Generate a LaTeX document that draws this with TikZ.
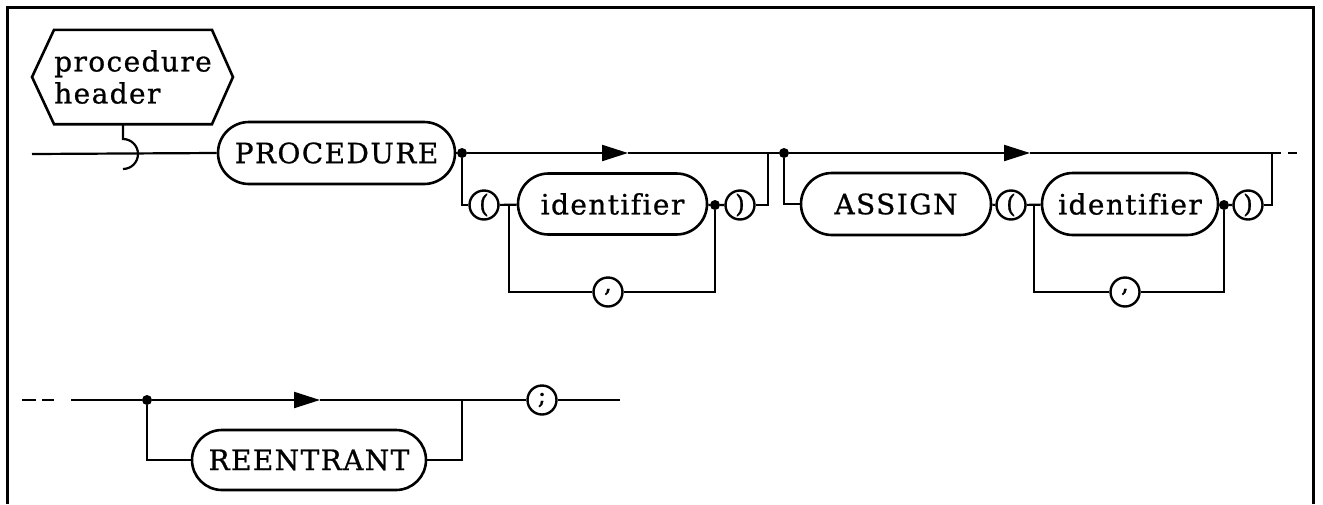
\documentclass[tikz,border=0pt]{standalone}
\usepackage{fontspec}
\setmainfont{DejaVu Serif}[LetterSpace=5,FakeBold=0.8,Ligatures=NoCommon]
\usetikzlibrary{shapes.misc,arrows.meta,calc}
\begin{document}
\begin{tikzpicture}[x=1pt,y=-1pt,
  ln/.style={line width=2.2pt},
  term/.style={draw, rounded rectangle, line width=2.6pt, minimum height=62pt, inner sep=0pt, font=\fontsize{28}{30}\selectfont},
  sym/.style={draw, circle, line width=2.4pt, minimum size=29pt, inner sep=0pt, font=\fontsize{25}{25}\selectfont},
  jdot/.style={circle, fill, inner sep=0pt, minimum size=10pt},
  arr/.style={ln, -{Triangle[length=26pt,width=16pt]}},
  frame/.style={line width=3pt}]
\useasboundingbox (0,0) rectangle (1323,504);
% frame
\coordinate (fbl) at (7,504); \coordinate (ftl) at (7,7);
\coordinate (ftr) at (1313,7); \coordinate (fbr) at (1313,504);
\draw[frame] (fbl) -- (ftl) -- (ftr) -- (fbr);
% hexagon
\node[minimum width=152pt, minimum height=94pt, inner sep=0pt, align=left,
      font=\fontsize{28}{32}\selectfont] (hex) at (133,77) {procedure\\header};
\draw[line width=2.6pt] (hex.north west) -- (hex.north east) -- ($(hex.east)+(21,0)$)
   -- (hex.south east) -- (hex.south west) -- ($(hex.west)+(-22,0)$) -- cycle;
% row 1
\node[term, minimum width=237pt] (proc) at (336.5,153) {PROCEDURE};
\node[jdot] (d1) at (462,153) {};
\node[sym] (o1) at (484,205) {(};
\node[term, minimum width=189pt, minimum height=61pt] (id1) at (612.5,204) {identif{}ier};
\node[jdot] (d2) at (715,205) {};
\node[sym] (c1) at (740,205) {)};
\node[sym] (cm1) at (608,292) {,};
\node[jdot] (d3) at (784,153) {};
\node[term, minimum width=190pt] (asg) at (896,204) {ASSIGN};
\node[sym] (o2) at (1011,205) {(};
\node[term, minimum width=176pt] (id2) at (1130,204) {identif{}ier};
\node[jdot] (d4) at (1224,205) {};
\node[sym] (c2) at (1248,205) {)};
\node[sym] (cm2) at (1125,292) {,};
\coordinate (start) at (32,154);
\coordinate (hk) at (123,139);
\coordinate (a1) at (628,153);
\coordinate (j1) at (768,153);
\coordinate (b1) at (509,205);
\coordinate (a2) at (1030,153);
\coordinate (j2) at (1272,153);
\coordinate (tail) at (1304,153);
\coordinate (b2) at (1034,205);
% hook entry
\draw[ln] ($(hex.south)+(-10,0)$) -- (hk) arc[start angle=90, end angle=-90, radius=15pt];
\draw[ln] (start) -- (proc.west);
\draw[ln] (proc.east) -- (d1);
\draw[arr] (d1) -- (a1);
\draw[ln] (a1) -- (d3);
\draw[ln] (d1) |- (o1);
\draw[ln] (o1) -- (id1);
\draw[ln] (id1) -- (d2) -- (c1);
\draw[ln] (c1) -| (j1);
\draw[ln] (b1) |- (cm1);
\draw[ln] (cm1) -| (d2);
\draw[ln] (d3) |- (asg);
\draw[ln] (asg) -- (o2);
\draw[ln] (o2) -- (id2);
\draw[ln] (id2) -- (d4) -- (c2);
\draw[ln] (c2) -| (j2);
\draw[arr] (d3) -- (a2);
\draw[ln] (a2) -- (j2);
\draw[ln, dash pattern=on 9pt off 7pt] (j2) -- (tail);
\draw[ln] (b2) |- (cm2);
\draw[ln] (cm2) -| (d4);
% row 2
\node[jdot] (d5) at (147,400) {};
\node[term, minimum width=234pt, minimum height=60pt] (re) at (309,460) {REENTRANT};
\node[sym] (semi) at (542,400) {;};
\coordinate (r2s) at (22,400);
\coordinate (r2a) at (71,400);
\coordinate (a3) at (320,400);
\coordinate (j3) at (462,400);
\coordinate (r2e) at (620,400);
\draw[ln, dash pattern=on 14pt off 6pt on 12pt off 17pt] (r2s) -- (r2a);
\draw[ln] (r2a) -- (d5);
\draw[arr] (d5) -- (a3);
\draw[ln] (a3) -- (semi);
\draw[ln] (semi) -- (r2e);
\draw[ln] (d5) |- (re);
\draw[ln] (re) -| (j3);
\end{tikzpicture}
\end{document}
